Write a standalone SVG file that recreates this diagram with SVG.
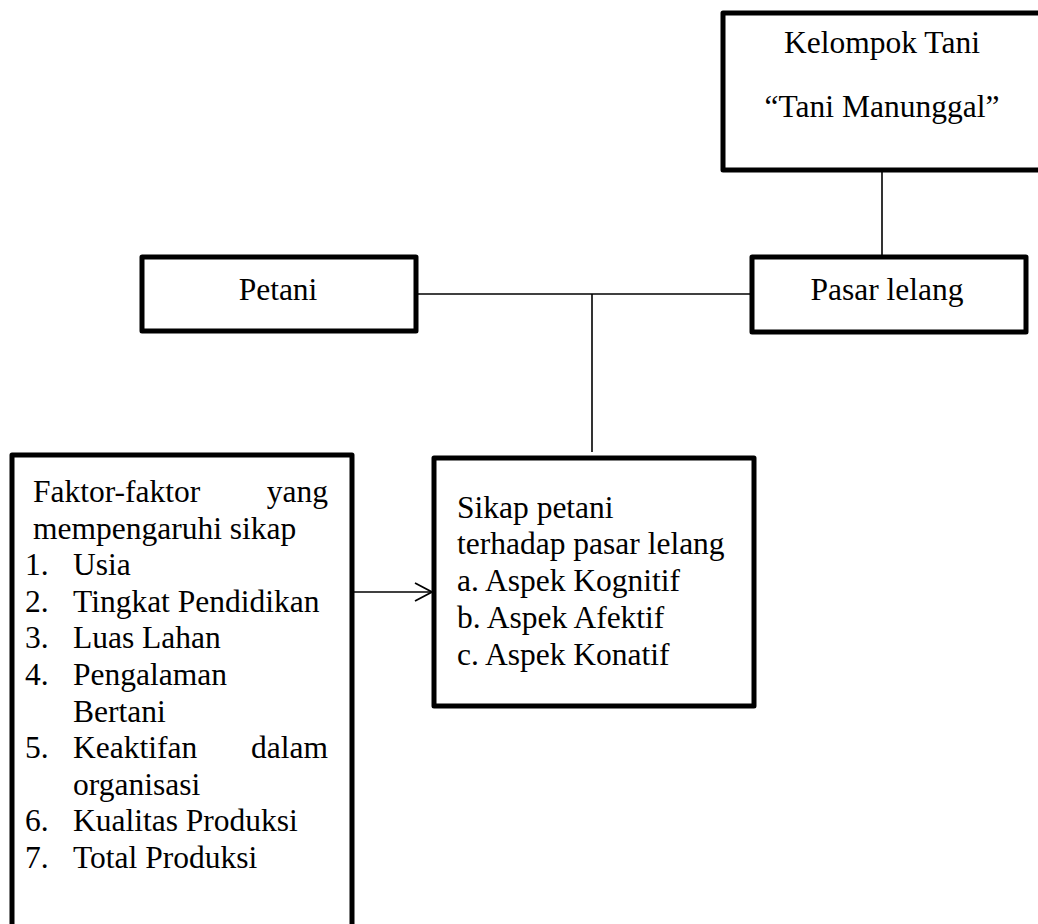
<svg xmlns="http://www.w3.org/2000/svg" width="1038" height="924" viewBox="0 0 1038 924">
<style>
.box{fill:#fff;stroke:#000;stroke-width:5;stroke-linejoin:round}
.ln{fill:none;stroke:#000;stroke-width:1.6}
text{font-family:"Liberation Serif","Times New Roman",serif;font-size:31.5px;fill:#000}
.c{text-anchor:middle}
.e{text-anchor:end}
</style>
<defs>
<marker id="arr" viewBox="0 0 20 20" refX="18" refY="10" markerWidth="20" markerHeight="20" markerUnits="userSpaceOnUse" orient="auto">
<path d="M1,1 L18,10 L1,19" fill="none" stroke="#000" stroke-width="1.8"/>
</marker>
</defs>
<g id="connectors">
<line class="ln" x1="882" y1="170" x2="882" y2="257"/>
<line class="ln" x1="416" y1="294" x2="752" y2="294"/>
<line class="ln" x1="592" y1="294" x2="592" y2="452"/>
<line class="ln" x1="352" y1="592" x2="432" y2="592" marker-end="url(#arr)"/>
</g>
<g id="kelompok">
<rect class="box" x="723" y="13" width="330" height="157"/>
<text class="c" x="882" y="53">Kelompok Tani</text>
<text class="c" x="882" y="117">“Tani Manunggal”</text>
</g>
<g id="petani">
<rect class="box" x="142" y="257" width="274" height="74"/>
<text class="c" x="278" y="300">Petani</text>
</g>
<g id="pasar">
<rect class="box" x="752" y="257" width="274" height="75"/>
<text class="c" x="887" y="300">Pasar lelang</text>
</g>
<g id="faktor">
<rect class="box" x="12" y="455" width="340" height="500"/>
<text x="33" y="502">Faktor-faktor</text>
<text class="e" x="328" y="502">yang</text>
<text x="33" y="538.6">mempengaruhi sikap</text>
<text x="25" y="575.2">1.</text><text x="73" y="575.2">Usia</text>
<text x="25" y="611.8">2.</text><text x="73" y="611.8">Tingkat Pendidikan</text>
<text x="25" y="648.4">3.</text><text x="73" y="648.4">Luas Lahan</text>
<text x="25" y="685">4.</text><text x="73" y="685">Pengalaman</text>
<text x="73" y="721.6">Bertani</text>
<text x="25" y="758.2">5.</text><text x="73" y="758.2">Keaktifan</text>
<text class="e" x="328" y="758.2">dalam</text>
<text x="73" y="794.8">organisasi</text>
<text x="25" y="831.4">6.</text><text x="73" y="831.4">Kualitas Produksi</text>
<text x="25" y="868">7.</text><text x="73" y="868">Total Produksi</text>
</g>
<g id="sikap">
<rect class="box" x="434" y="458" width="320" height="248"/>
<text x="457" y="518">Sikap petani</text>
<text x="457" y="554">terhadap pasar lelang</text>
<text x="457" y="591">a. Aspek Kognitif</text>
<text x="457" y="628">b. Aspek Afektif</text>
<text x="457" y="665">c. Aspek Konatif</text>
</g>
</svg>
